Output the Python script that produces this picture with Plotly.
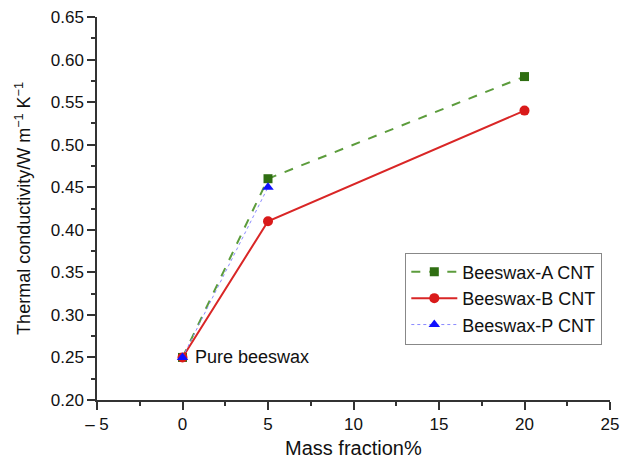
import plotly.graph_objects as go

# Thermal conductivity of beeswax / CNT composites vs CNT mass fraction
mass_a = [0, 5, 20]
cond_a = [0.25, 0.46, 0.58]
mass_b = [0, 5, 20]
cond_b = [0.25, 0.41, 0.54]
mass_p = [0, 5]
cond_p = [0.25, 0.45]

x_ticks = [-5, 0, 5, 10, 15, 20, 25]
x_tick_text = ["– 5", "0", "5", "10", "15", "20", "25"]
y_ticks = [0.20, 0.25, 0.30, 0.35, 0.40, 0.45, 0.50, 0.55, 0.60, 0.65]

font = "Liberation Sans, Arial, sans-serif"

fig = go.Figure()
fig.add_trace(go.Scatter(
    x=mass_a, y=cond_a, mode="lines+markers", name="Beeswax-A CNT",
    line=dict(color="#5c9c3c", width=2, dash="dash"),
    marker=dict(symbol="square", size=9, color="#2f6e12"),
))
fig.add_trace(go.Scatter(
    x=mass_b, y=cond_b, mode="lines+markers", name="Beeswax-B CNT",
    line=dict(color="#d92626", width=2),
    marker=dict(symbol="circle", size=10, color="#d91a1a"),
))
fig.add_trace(go.Scatter(
    x=mass_p, y=cond_p, mode="lines+markers", name="Beeswax-P CNT",
    line=dict(color="#8a8aff", width=1, dash="dot"),
    marker=dict(symbol="triangle-up", size=10, color="#1010ff"),
))

fig.add_annotation(
    x=mass_p[0], y=cond_p[0], text="Pure beeswax", showarrow=False,
    xanchor="left", yanchor="middle", xshift=10,
    font=dict(family=font, size=18, color="#111111"),
)

# x-axis title placed just under the tick labels
fig.add_annotation(
    x=0.5, y=-0.125, xref="paper", yref="paper", text="Mass fraction%",
    showarrow=False, xanchor="center", yanchor="middle",
    font=dict(family=font, size=20, color="#111111"),
)

fig.update_layout(
    width=630, height=467,
    margin=dict(l=97, r=20, t=17, b=67),
    paper_bgcolor="white", plot_bgcolor="white",
    font=dict(family=font, size=17, color="#111111"),
    showlegend=True,
    legend=dict(
        x=0.985, y=0.385, xanchor="right", yanchor="top",
        bordercolor="#888888", borderwidth=1, bgcolor="white",
        font=dict(family=font, size=18), tracegroupgap=0,
        itemwidth=46,
    ),
    xaxis=dict(
        automargin=False,
        range=[-5, 25], tickvals=x_ticks, ticktext=x_tick_text,
        showgrid=False, zeroline=False, showline=True, linecolor="#333333", linewidth=1.5,
        ticks="outside", ticklen=8, tickcolor="#333333", tickwidth=1.5,
        minor=dict(dtick=2.5, ticks="outside", ticklen=4, tickcolor="#333333", tickwidth=1.5),
    ),
    yaxis=dict(
        title=dict(text="Thermal conductivity/W m<sup>−1</sup> K<sup>−1</sup>", font=dict(size=18)),
        automargin=False,
        range=[0.20, 0.65], tickvals=y_ticks, tickformat=".2f",
        showgrid=False, zeroline=False, showline=True, linecolor="#333333", linewidth=1.5,
        ticks="outside", ticklen=8, tickcolor="#333333", tickwidth=1.5,
        minor=dict(dtick=0.025, ticks="outside", ticklen=4, tickcolor="#333333", tickwidth=1.5),
    ),
)

fig.write_html("out.html")
